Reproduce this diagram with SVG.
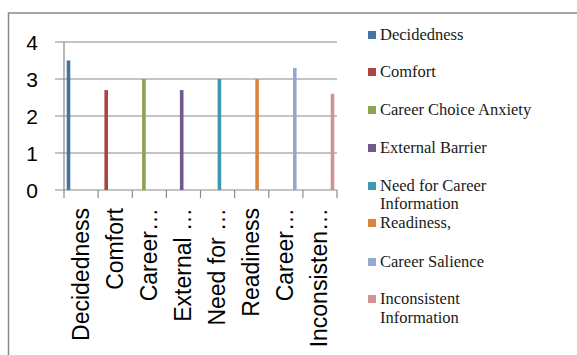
<svg xmlns="http://www.w3.org/2000/svg" width="577" height="355" viewBox="0 0 577 355">
<style>
.frame{stroke:#898989;stroke-width:1.5;fill:none}
.grid{stroke:#8a8a8a;stroke-width:1.2;fill:none}
.ax{font-family:"Liberation Sans",Arial,sans-serif;font-size:21px;fill:#000}
.cat{font-family:"Liberation Sans",Arial,sans-serif;font-size:23px;fill:#000}
.leg{font-family:"Liberation Serif","Times New Roman",serif;font-size:16.5px;fill:#1a1a1a}
</style>
<rect width="577" height="355" fill="#fff"/>
<path class="frame" d="M8.5,355 V13 H577"/>
<g id="axes">
<path class="grid" d="M55,42H337M55,79H337M55,116H337M55,153H337M55,190H337M64,42V198M98.1,190V198M132.3,190V198M166.4,190V198M200.5,190V198M234.6,190V198M268.8,190V198M302.9,190V198M337,190V198"/>
<g class="ax" text-anchor="end">
<text x="38" y="49.5">4</text>
<text x="38" y="86.5">3</text>
<text x="38" y="123.5">2</text>
<text x="38" y="160.5">1</text>
<text x="38" y="197.5">0</text>
</g>
<g class="cat" text-anchor="end">
<text transform="translate(88.6,208) rotate(-90)">Decidedness</text>
<text transform="translate(122.7,208) rotate(-90)">Comfort</text>
<text transform="translate(156.8,208) rotate(-90)">Career…</text>
<text transform="translate(190.9,208) rotate(-90)">External …</text>
<text transform="translate(225.1,208) rotate(-90)">Need for …</text>
<text transform="translate(259.2,208) rotate(-90)">Readiness</text>
<text transform="translate(293.3,208) rotate(-90)">Career…</text>
<text transform="translate(327.4,208) rotate(-90)">Inconsisten…</text>
</g>
</g>
<g id="bars">
<rect x="66.7" y="60.5" width="3.6" height="129.5" fill="#4572A7"/>
<rect x="104.4" y="90.1" width="3.6" height="99.9" fill="#AA4643"/>
<rect x="142.1" y="79" width="3.6" height="111" fill="#89A54E"/>
<rect x="179.9" y="90.1" width="3.6" height="99.9" fill="#71588F"/>
<rect x="217.6" y="79" width="3.6" height="111" fill="#4198AF"/>
<rect x="255.3" y="79" width="3.6" height="111" fill="#DB843D"/>
<rect x="293.0" y="67.9" width="3.6" height="122.1" fill="#93A9CF"/>
<rect x="330.7" y="93.8" width="3.6" height="96.2" fill="#D19392"/>
</g>
<g id="legend">
<g id="leg1"><rect x="368" y="31" width="8" height="8" fill="#4572A7"/><text class="leg" x="380" y="40">Decidedness</text></g>
<g id="leg2"><rect x="368" y="68" width="8" height="8" fill="#AA4643"/><text class="leg" x="380" y="77">Comfort</text></g>
<g id="leg3"><rect x="368" y="106" width="8" height="8" fill="#89A54E"/><text class="leg" x="380" y="115">Career Choice Anxiety</text></g>
<g id="leg4"><rect x="368" y="144" width="8" height="8" fill="#71588F"/><text class="leg" x="380" y="153">External Barrier</text></g>
<g id="leg5"><rect x="368" y="182" width="8" height="8" fill="#4198AF"/><text class="leg" x="380" y="191">Need for Career</text><text class="leg" x="380" y="209">Information</text></g>
<g id="leg6"><rect x="368" y="219" width="8" height="8" fill="#DB843D"/><text class="leg" x="380" y="228">Readiness,</text></g>
<g id="leg7"><rect x="368" y="258" width="8" height="8" fill="#93A9CF"/><text class="leg" x="380" y="267">Career Salience</text></g>
<g id="leg8"><rect x="368" y="295" width="8" height="8" fill="#D19392"/><text class="leg" x="380" y="304">Inconsistent</text><text class="leg" x="380" y="323">Information</text></g>
</g>
</svg>
